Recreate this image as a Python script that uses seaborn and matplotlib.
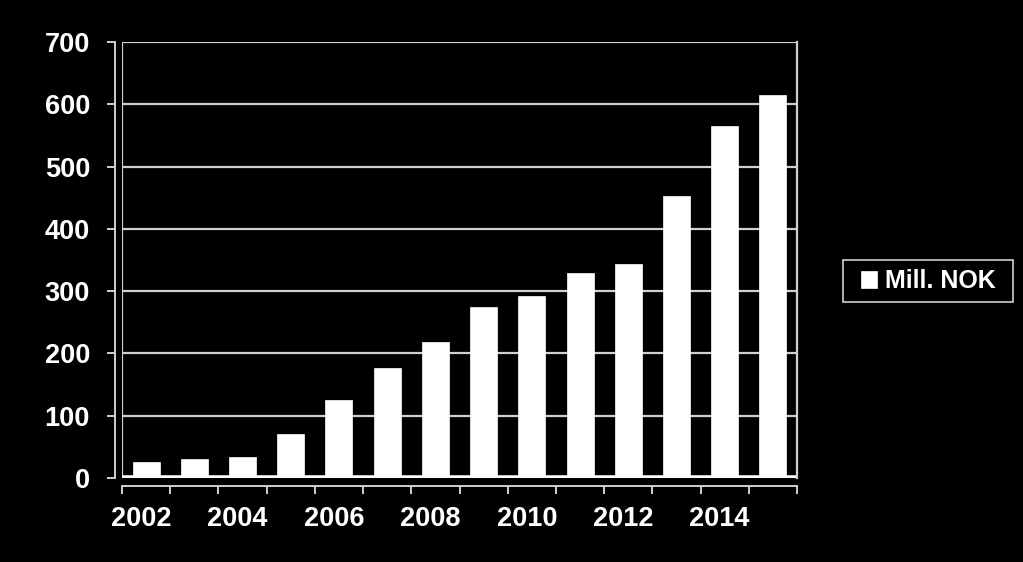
import matplotlib
matplotlib.use("Agg")
import matplotlib.pyplot as plt
import matplotlib.transforms as mtransforms
from matplotlib.patches import Rectangle
import seaborn as sns
import pandas as pd

years = [2002, 2003, 2004, 2005, 2006, 2007, 2008, 2009, 2010, 2011, 2012, 2013, 2014, 2015]
values = [26, 31, 34, 71, 126, 176, 219, 274, 293, 329, 343, 453, 565, 615]
series_name = "Mill. NOK"
y_ticks = [0, 100, 200, 300, 400, 500, 600, 700]

df = pd.DataFrame({"year": [str(y) for y in years], "value": values})

sns.set_theme(style="dark")
plt.rcParams["font.family"] = ["Liberation Sans", "DejaVu Sans"]
plt.rcParams["font.weight"] = "bold"

W, H = 1023, 562
fig = plt.figure(figsize=(W / 100, H / 100), dpi=100, facecolor="black")
ax = fig.add_axes([122 / W, (H - 478) / H, 675 / W, 436 / H])
ax.set_facecolor("black")

sns.barplot(data=df, x="year", y="value", color="white", width=0.56,
            saturation=1, ax=ax, label=series_name, edgecolor="white", linewidth=0.5,
            zorder=3)

grid_c = "#d0d0d0"
ax.set_ylim(0, 700)
ax.set_xlim(-0.5, len(years) - 0.5)
ax.set_yticks(y_ticks)
ax.yaxis.grid(True, color=grid_c, linewidth=1.6, zorder=0)
ax.xaxis.grid(False)

# back wall left edge and floor
ax.axvline(-0.5, color=grid_c, linewidth=1.6, zorder=1)
ax.axhline(0, color="white", linewidth=4, zorder=2)

ax.spines["top"].set_visible(False)
ax.spines["right"].set_color(grid_c)
ax.spines["right"].set_linewidth(1.6)
ax.spines["left"].set_position(("outward", 5))
ax.spines["left"].set_color(grid_c)
ax.spines["left"].set_linewidth(1.4)
ax.spines["bottom"].set_position(("outward", 6))
ax.spines["bottom"].set_color(grid_c)
ax.spines["bottom"].set_linewidth(1.4)

# x ticks: labels at even years, tick marks at category boundaries
ax.set_xticks(range(0, len(years), 2))
ax.set_xticklabels([str(y) for y in years[::2]])
ax.set_xticks([i - 0.5 for i in range(len(years) + 1)], minor=True)
ax.tick_params(axis="x", which="major", length=0, pad=14, colors="white", labelsize=19.5)
ax.tick_params(axis="x", which="minor", length=6, width=1.4, color=grid_c, direction="out", bottom=True)
ax.tick_params(axis="y", length=6, width=1.4, color=grid_c, pad=12, colors="white", labelsize=19.5, left=True)
for lab in ax.get_xticklabels():
    lab.set_fontweight("bold")
    lab.set_color("white")
    lab.set_transform(lab.get_transform() + mtransforms.ScaledTranslation(-5 / 100, 0, fig.dpi_scale_trans))
for lab in ax.get_yticklabels():
    lab.set_fontweight("bold")
    lab.set_color("white")

ax.set_xlabel("")
ax.set_ylabel("")

leg = ax.legend(loc="center left", bbox_to_anchor=(861 / W, 1 - 281 / H),
                bbox_transform=fig.transFigure, frameon=False,
                handlelength=0.65, handleheight=0.65,
                handletextpad=0.3, borderpad=0, borderaxespad=0, fontsize=18)
for t in leg.get_texts():
    t.set_color("white")
    t.set_fontweight("bold")

# legend frame
fig.patches.append(Rectangle((843 / W, 1 - 302 / H), 170 / W, 42 / H,
                             transform=fig.transFigure, fill=False,
                             edgecolor=grid_c, linewidth=1.2))

fig.savefig("out.png", dpi=100, facecolor="black")
